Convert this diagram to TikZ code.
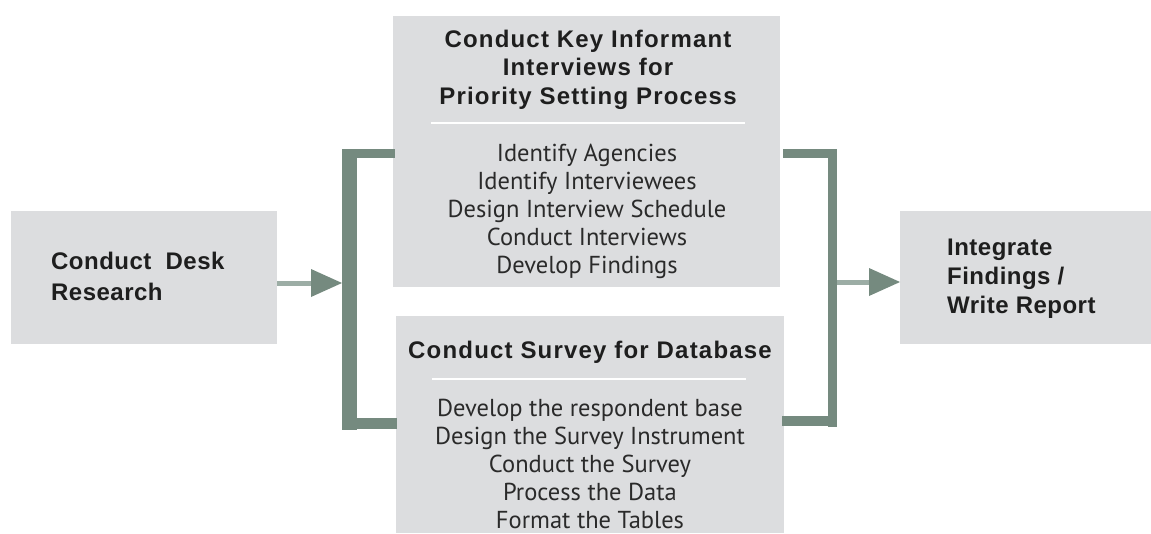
\documentclass[tikz,border=0pt]{standalone}
\usepackage{fontspec}
\setmainfont{Liberation Sans}
\newfontfamily\headfont[LetterSpace=2]{Liberation Sans}
\newfontfamily\titlefont[LetterSpace=5]{Liberation Sans}
\newfontfamily\itemfont{PT Sans}
\usetikzlibrary{arrows.meta}
\definecolor{boxgray}{HTML}{DCDDDF}
\definecolor{bracketgreen}{HTML}{758A7F}
\definecolor{shaftgreen}{HTML}{9CADA5}
\definecolor{inkdark}{HTML}{1E1E1E}
\definecolor{inkitem}{HTML}{2A2A2A}
\begin{document}
\begin{tikzpicture}[x=1pt,y=-1pt,
  box/.style={fill=boxgray, draw=none, inner sep=0pt, outer sep=0pt, anchor=north west},
  head/.style={font=\headfont\bfseries\fontsize{24}{28.5}\selectfont, text=inkdark, align=center, inner sep=0pt},
  title/.style={head, font=\titlefont\bfseries\fontsize{24}{28.5}\selectfont},
  items/.style={font=\itemfont\fontsize{24.5}{28}\selectfont, text=inkitem, align=center, inner sep=0pt},
  flow/.style={line width=5pt, draw=shaftgreen,
    -{Triangle[length=31pt,width=28pt,color=bracketgreen,line width=0pt]}},
  bar/.style={fill=bracketgreen},
  rule/.style={draw=white, line width=2pt}]
\useasboundingbox (0,0) rectangle (1151,533);

% boxes
\node[box, minimum width=266pt, minimum height=133pt] (desk) at (11,211) {};
\node[box, minimum width=387pt, minimum height=271pt] (kii) at (393,16) {};
\node[box, minimum width=388pt, minimum height=217pt] (survey) at (396,316) {};
\node[box, minimum width=251pt, minimum height=133pt] (report) at (900,211) {};

% texts (each node is placed by the baseline of its last line)
\node[head, align=left, anchor=base west, font=\headfont\bfseries\fontsize{24}{31}\selectfont] (desktext) at (51,300) {Conduct\ \ Desk\\Research};
\node[head, align=left, anchor=base west, font=\headfont\bfseries\fontsize{24}{29}\selectfont] (reporttext) at (947,313) {Integrate\\Findings /\\Write Report};
\node[title, anchor=base] (kiititle) at (588,104) {Conduct Key Informant\\Interviews for\\Priority Setting Process};
\node[items, anchor=base] (kiiitems) at (587,273) {Identify Agencies\\Identify Interviewees\\Design Interview Schedule\\Conduct Interviews\\Develop Findings};
\node[title, anchor=base] (surveytitle) at (590,358) {Conduct Survey for Database};
\node[items, anchor=base] (surveyitems) at (590,528) {Develop the respondent base\\Design the Survey Instrument\\Conduct the Survey\\Process the Data\\Format the Tables};

% separators
\draw[rule] (431,123) -- (745,123);
\draw[rule] (432,379) -- (746,379);

% left bracket
\fill[bar] (342,149) rectangle (357,430);
\fill[bar] (342,149) rectangle (395,158);
\fill[bar] (342,418) rectangle (397,429);
% right bracket
\fill[bar] (828,149) rectangle (837,427);
\fill[bar] (783,149) rectangle (837,158);
\fill[bar] (782,416) rectangle (837,426);

% arrows
\coordinate (lbar) at (342,283);
\coordinate (rbar) at (837,282);
\draw[flow] (desk.east |- lbar) -- (lbar);
\draw[flow] (rbar) -- (report.west |- rbar);
\end{tikzpicture}
\end{document}
